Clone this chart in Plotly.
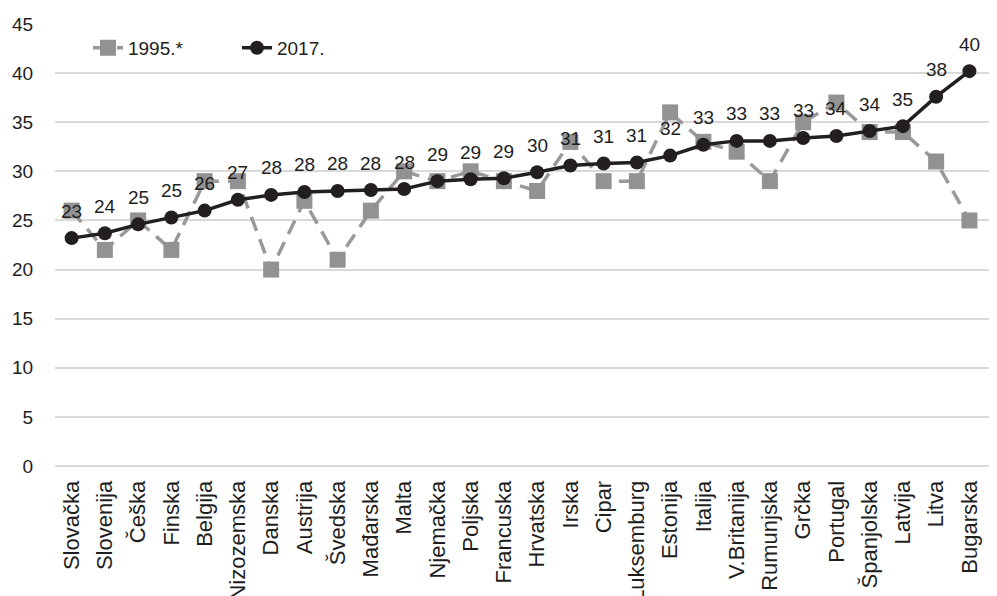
import plotly.graph_objects as go

countries = ["Slovačka", "Slovenija", "Češka", "Finska", "Belgija", "Nizozemska", "Danska",
             "Austrija", "Švedska", "Mađarska", "Malta", "Njemačka", "Poljska", "Francuska",
             "Hrvatska", "Irska", "Cipar", "Luksemburg", "Estonija", "Italija", "V.Britanija",
             "Rumunjska", "Grčka", "Portugal", "Španjolska", "Latvija", "Litva", "Bugarska"]
v1995 = [26, 22, 25, 22, 29, 29, 20, 27, 21, 26, 30, 29, 30, 29, 28, 33, 29, 29, 36, 33, 32,
         29, 35, 37, 34, 34, 31, 25]
v2017 = [23.2, 23.7, 24.6, 25.3, 26.0, 27.1, 27.6, 27.9, 28.0, 28.1, 28.2, 29.0, 29.2, 29.3,
         29.9, 30.6, 30.8, 30.9, 31.6, 32.7, 33.1, 33.1, 33.4, 33.6, 34.1, 34.6, 37.6, 40.2]
y_ticks = [0, 5, 10, 15, 20, 25, 30, 35, 40, 45]

FONT = "Liberation Sans, Arial, sans-serif"
TXT = "#1e1e1e"

fig = go.Figure()
fig.add_trace(go.Scatter(
    x=countries, y=v1995, name="1995.*", mode="lines+markers",
    line=dict(color="#999999", width=3.5, dash="15px,9px"),
    marker=dict(symbol="square", size=16, color="#929292"),
))
fig.add_trace(go.Scatter(
    x=countries, y=v2017, name="2017.", mode="lines+markers",
    line=dict(color="#231f20", width=3.5),
    marker=dict(symbol="circle", size=14, color="#231f20"),
))

for c, v in zip(countries, v2017):
    fig.add_annotation(x=c, y=v, text=f"{v:.0f}", showarrow=False, yshift=27,
                       font=dict(family=FONT, size=19, color=TXT))

fig.update_layout(
    width=997, height=596,
    template="none",
    paper_bgcolor="white", plot_bgcolor="white",
    margin=dict(l=47, r=8, t=16, b=138),
    font=dict(family=FONT, size=19, color=TXT),
    showlegend=True,
    legend=dict(orientation="h", x=0.035, y=0.946, xanchor="left", yanchor="middle",
                font=dict(family=FONT, size=19, color=TXT), bgcolor="rgba(0,0,0,0)",
                entrywidth=104, entrywidthmode="pixels", tracegroupgap=0),
)
fig.update_xaxes(
    type="category", range=[-0.5, 27.83], tickangle=-90, automargin=False,
    showgrid=False, showline=False, zeroline=False,
    ticks="outside", ticklen=5, tickcolor="rgba(0,0,0,0)",
    tickfont=dict(family=FONT, size=22, color=TXT),
)
fig.update_yaxes(
    range=[0, 45], tickvals=y_ticks, automargin=False,
    showgrid=True, gridcolor="#d9d9d9", gridwidth=1.5,
    zeroline=True, zerolinecolor="#d9d9d9", zerolinewidth=1.5, showline=False,
    ticks="outside", ticklen=17, tickcolor="rgba(0,0,0,0)",
    tickfont=dict(family=FONT, size=19, color=TXT),
)

fig.write_html("out.html")
